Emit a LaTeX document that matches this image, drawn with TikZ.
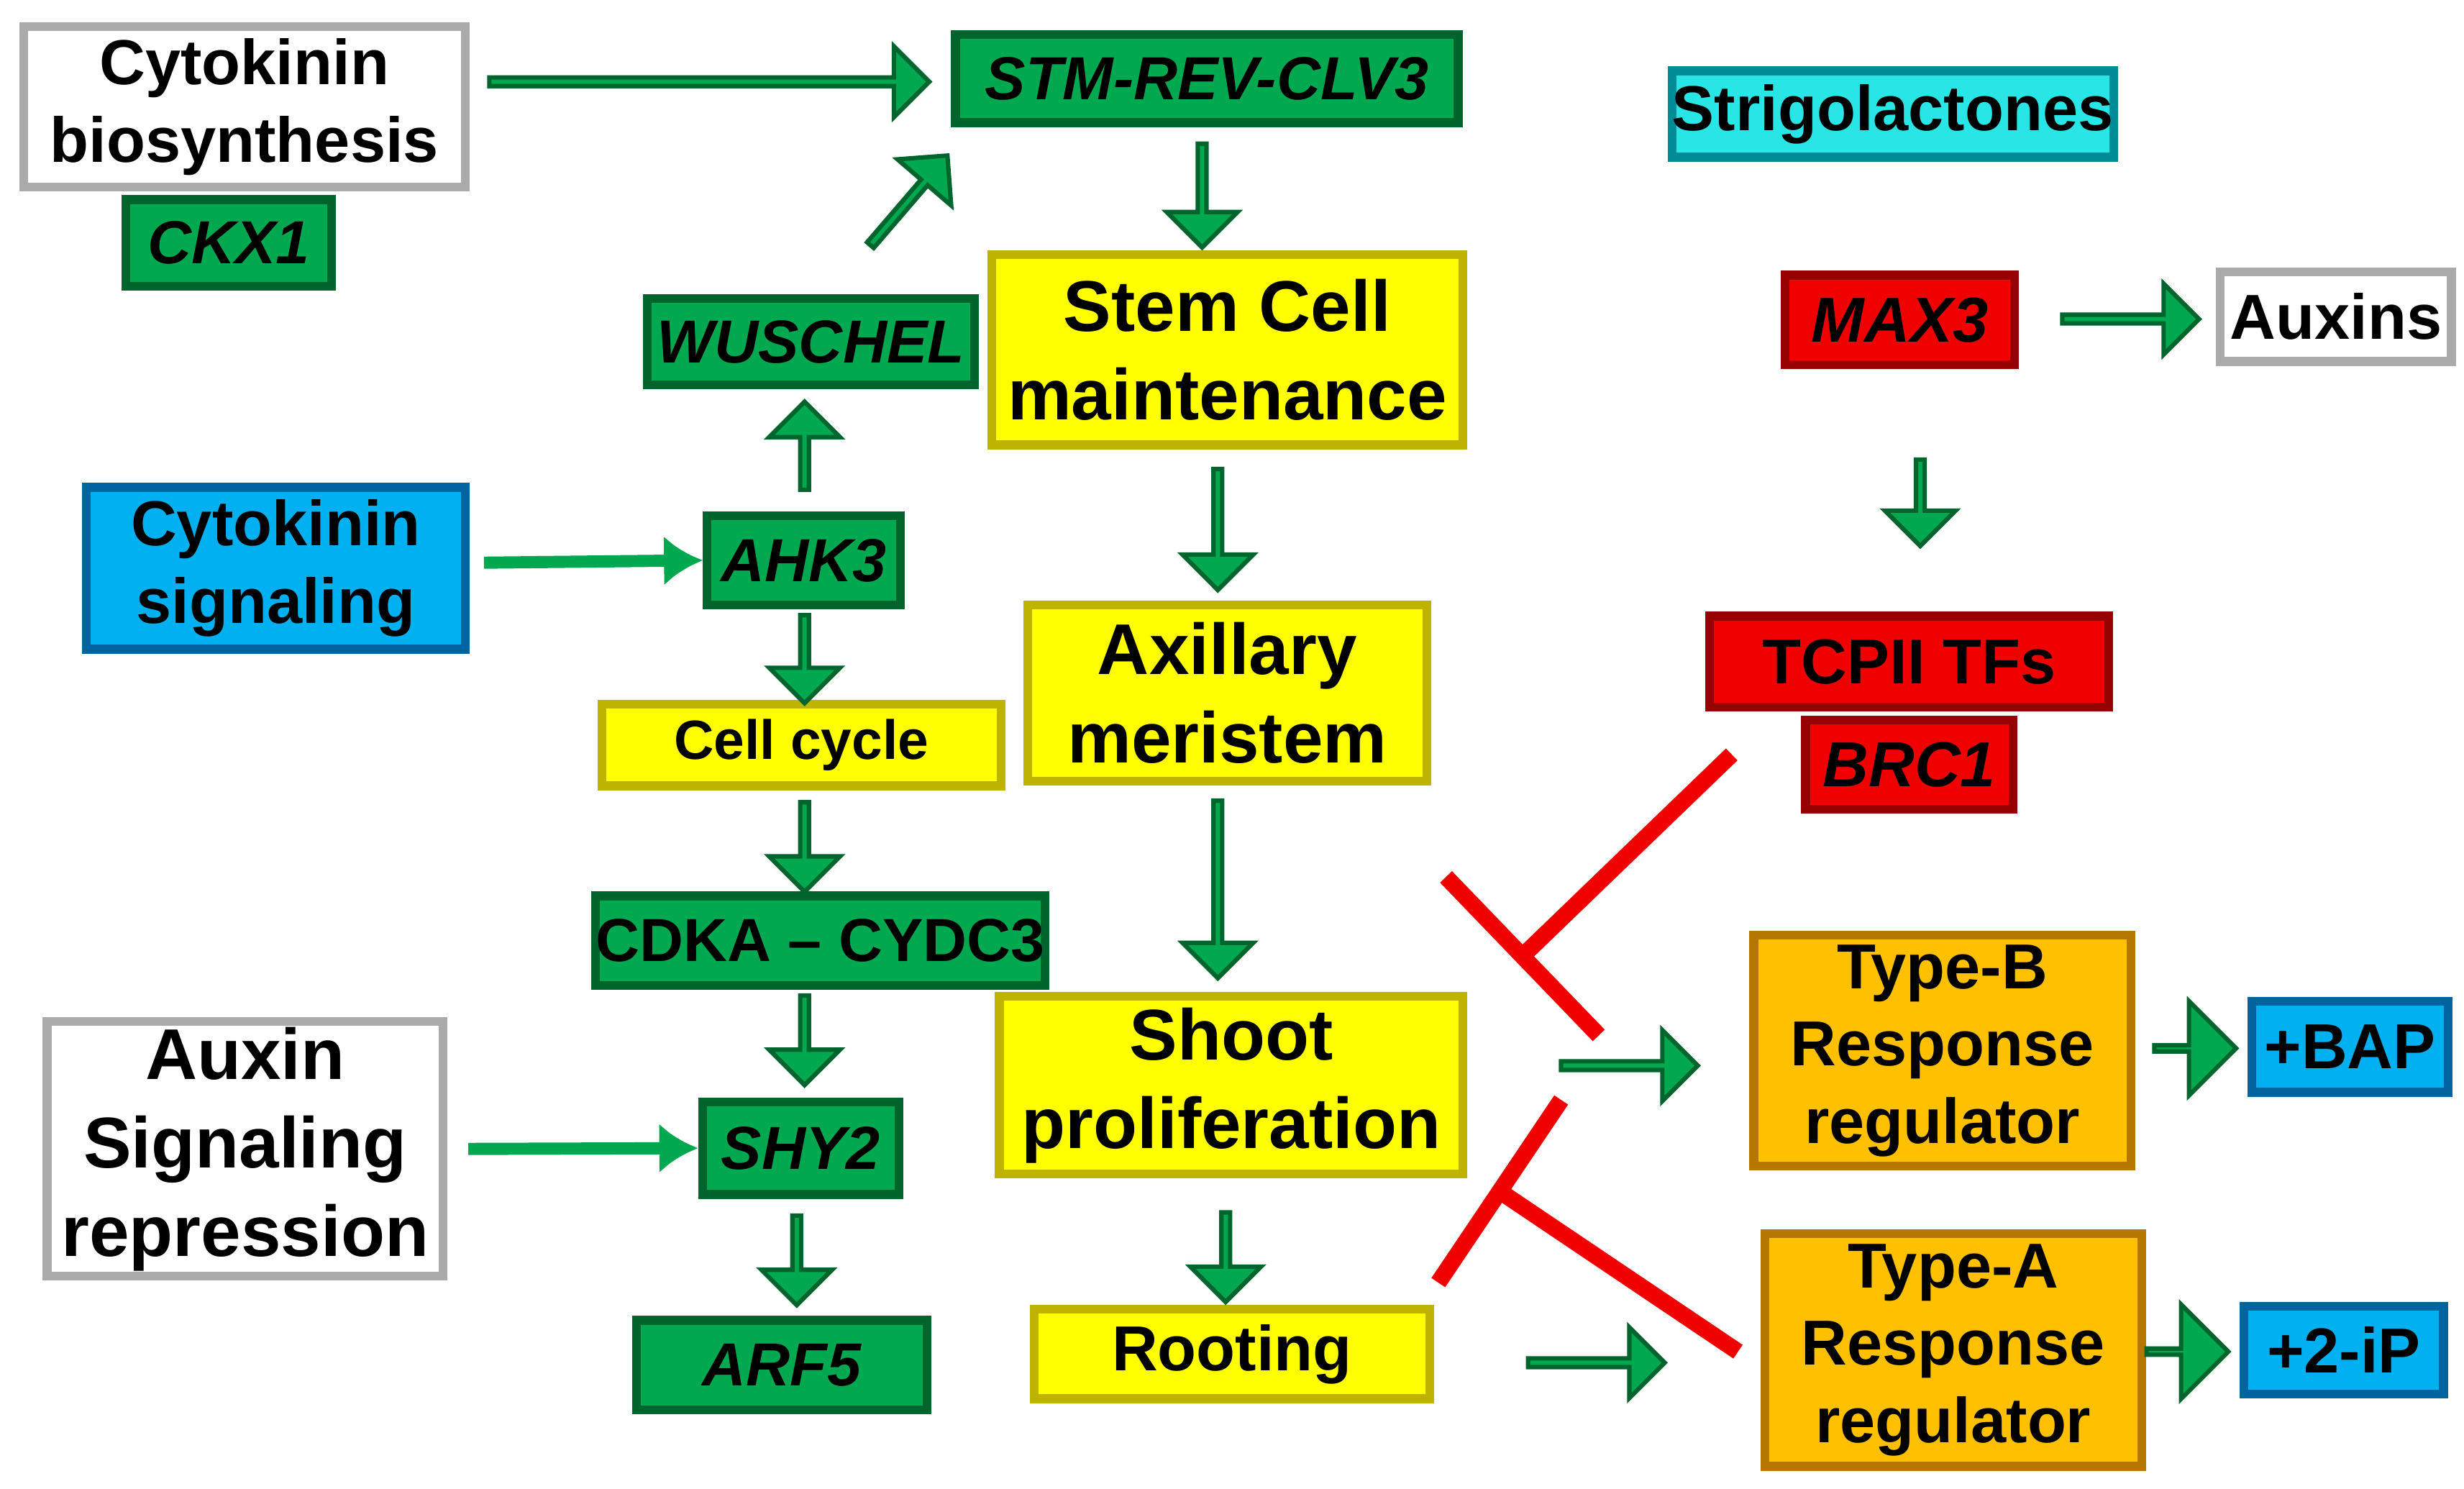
\documentclass[tikz,border=0pt]{standalone}
\usepackage{fontspec}
\setmainfont{Liberation Sans}
\usetikzlibrary{shapes.arrows,calc}
\definecolor{gr}{RGB}{0,168,80}
\definecolor{grd}{RGB}{0,100,45}
\definecolor{yl}{RGB}{255,255,0}
\definecolor{yld}{RGB}{190,180,0}
\definecolor{rd}{RGB}{240,0,0}
\definecolor{rdd}{RGB}{150,0,0}
\definecolor{bl}{RGB}{0,176,240}
\definecolor{bld}{RGB}{0,100,160}
\definecolor{cy}{RGB}{40,230,230}
\definecolor{cyd}{RGB}{0,140,150}
\definecolor{og}{RGB}{255,192,0}
\definecolor{ogd}{RGB}{180,120,0}
\definecolor{wd}{RGB}{170,170,170}
\tikzset{
 bx/.style 2 args={draw=#2,fill=#1,line width=1.6pt,inner sep=0,align=center,font=\bfseries},
 G/.style={bx={gr}{grd},font=\bfseries\itshape\fontsize{11}{13}\selectfont},
 Gn/.style={bx={gr}{grd},font=\bfseries\fontsize{11}{13}\selectfont},
 Y/.style={bx={yl}{yld}},
 R/.style={bx={rd}{rdd}},
 B/.style={bx={bl}{bld}},
 W/.style={bx={white}{wd}},
 O/.style={bx={og}{ogd}},
 ba/.style={single arrow,fill=gr,draw=grd,line width=0.8pt,inner sep=0,
   single arrow head extend=#1, minimum width=0.45cm},
 ba/.default=0.1cm,
 thin/.style={draw=gr,line width=2.2pt,-{Latex[length=7pt,width=9pt]}},
 inh/.style={draw=rd,line width=3pt,-{Bar[width=14mm,line width=3pt]}},
}
\usetikzlibrary{arrows.meta}
\newcommand{\bxat}[6]{\node[#1,minimum width={(#4-#2)*0.01cm},minimum height={(#5-#3)*0.01cm}] (#6) at ({(#2+#4)/2},{(#3+#5)/2})}
\newcommand{\barr}[6]{\coordinate (#1s) at (#2,#3); \coordinate (#1e) at (#4,#5);
 \path (#1s) -- (#1e) node[midway,sloped,ba=#6,minimum height={veclen(#4-#2,#5-#3)*0.01cm}] {};}
\begin{document}
\begin{tikzpicture}[x=0.01cm,y=-0.01cm]
\useasboundingbox (0,0) rectangle (1568,947);
\def\fa{\fontsize{11.5}{14}\selectfont}
\def\fb{\fontsize{13}{16}\selectfont}
\def\fc{\fontsize{10}{12}\selectfont}
\bxat{W,font=\bfseries\fa}{15}{17}{296}{119}{cb}{Cytokinin\\biosynthesis};
\bxat{G}{80}{127}{211}{182}{ckx}{CKX1};
\bxat{G}{608}{22}{928}{78}{stm}{STM-REV-CLV3};
\bxat{bx={cy}{cyd},font=\bfseries\fa}{1073}{45}{1336}{100}{sl}{Strigolactones};
\bxat{Y,font=\bfseries\fb}{631}{162}{931}{283}{sc}{Stem Cell\\maintenance};
\bxat{G}{412}{190}{620}{245}{wus}{WUSCHEL};
\bxat{R,font=\bfseries\itshape\fa}{1136}{175}{1282}{232}{max}{MAX3};
\bxat{W,font=\bfseries\fa}{1413}{173}{1560}{230}{aux}{Auxins};
\bxat{B,font=\bfseries\fa}{55}{310}{296}{413}{cs}{Cytokinin\\signaling};
\bxat{G}{450}{328}{573}{385}{ahk}{AHK3};
\bxat{Y,font=\bfseries\fb}{654}{385}{908}{497}{am}{Axillary\\meristem};
\bxat{R,font=\bfseries\fa}{1088}{392}{1342}{450}{tcp}{TCPII TFs};
\bxat{R,font=\bfseries\itshape\fa}{1149}{458}{1281}{515}{brc}{BRC1};
\bxat{Y,font=\bfseries\fc}{383}{448}{637}{500}{cc}{Cell cycle};
\bxat{Gn}{383}{570}{661}{627}{cdk}{CDKA -- CYDC3};
\bxat{O,font=\bfseries\fa}{1116}{595}{1356}{742}{tb}{Type-B\\Response\\regulator};
\bxat{B,font=\bfseries\fa}{1433}{637}{1558}{695}{bap}{+BAP};
\bxat{Y,font=\bfseries\fb}{636}{634}{931}{747}{sp}{Shoot\\proliferation};
\bxat{W,font=\bfseries\fb}{30}{650}{282}{812}{asr}{Auxin\\Signaling\\repression};
\bxat{G}{447}{701}{572}{760}{shy}{SHY2};
\bxat{O,font=\bfseries\fa}{1123}{785}{1363}{933}{ta}{Type-A\\Response\\regulator};
\bxat{B,font=\bfseries\fa}{1428}{831}{1555}{887}{ip}{+2-iP};
\bxat{G}{405}{840}{590}{897}{arf}{ARF5};
\bxat{Y,font=\bfseries\fa}{658}{833}{910}{890}{ro}{Rooting};
% block arrows
\barr{a1}{590}{52}{310}{52}{0.1cm}
\barr{a2}{553}{157}{602}{100}{0.1cm}
\barr{a3}{765}{90}{765}{156}{0.1cm}
\barr{a4}{512}{313}{512}{257}{0.1cm}
\barr{a5}{512}{390}{512}{446}{0.1cm}
\barr{a6}{775}{297}{775}{374}{0.1cm}
\barr{a7}{1222}{291}{1222}{346}{0.1cm}
\barr{a8}{1398}{203}{1311}{203}{0.1cm}
\barr{a9}{512}{509}{512}{566}{0.1cm}
\barr{a10}{775}{508}{775}{621}{0.1cm}
\barr{a11}{512}{632}{512}{689}{0.1cm}
\barr{a12}{507}{772}{507}{829}{0.1cm}
\barr{a13}{780}{770}{780}{827}{0.1cm}
\barr{a14}{1079}{678}{992}{678}{0.1cm}
\barr{a15}{1058}{867}{971}{867}{0.1cm}
\path (1422,667) -- (1370,667) node[midway,sloped,ba=0.2cm,minimum width=0.6cm,minimum height=0.52cm] (a16) {};
\path (1417,860) -- (1365,860) node[midway,sloped,ba=0.2cm,minimum width=0.6cm,minimum height=0.52cm] (a17) {};
% thin arrows
\draw[thin] (cs.east) ++(12,-55pt) coordinate (t1) (308,358) -- (ahk.west);
\draw[thin] (298,731) -- (shy.west);
% inhibitions
\coordinate (i1s) at (1102,480); \coordinate (i1e) at (965,612);
\draw[inh] (i1s) -- (i1e);
\coordinate (i2s) at (1106,860); \coordinate (i2e) at (950,755);
\draw[inh] (i2s) -- (i2e);
\end{tikzpicture}
\end{document}
